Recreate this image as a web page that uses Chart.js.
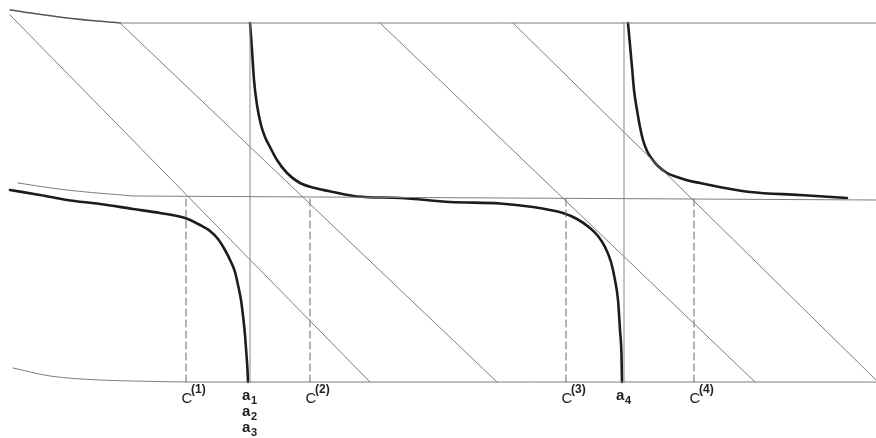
<!DOCTYPE html>
<html>
<head>
<meta charset="UTF-8" />
<title>Roots between poles</title>
<script src="https://cdn.jsdelivr.net/npm/chart.js@4"></script>
<style>
  * { margin: 0; padding: 0; box-sizing: border-box; }
  body { background: #ffffff; width: 876px; height: 438px; overflow: hidden; }
  #fig { display: block; }
</style>
</head>
<body>
<canvas id="fig" width="876" height="438"></canvas>
<script>
// values (x to the right, y upwards, baseline = 0)
const poles = [25.0, 62.4];
const poleLabels = [["a1", "a2", "a3"], ["a4"]];
const roots = [18.6, 31.0, 56.6, 69.4];
const rootLabels = ["(1)", "(2)", "(3)", "(4)"];

const upperLevel = 35.9;
const middleLevel = [[13.3, 18.6], [87.6, 18.2]];

const branchLeft = [
  [1.0, 19.2], [4.0, 18.7], [6.7, 18.2], [10.0, 17.8], [13.3, 17.3],
  [16.0, 16.9], [18.5, 16.4], [20.0, 15.7], [21.0, 15.1], [21.8, 14.3],
  [22.5, 13.2], [23.1, 12.0], [23.5, 11.0], [23.8, 9.7], [24.1, 8.2],
  [24.35, 6.2], [24.5, 4.7], [24.65, 2.7], [24.75, 1.2], [24.8, 0]
];
const branchMiddle = [
  [25.0, 35.9], [25.2, 33.2], [25.4, 30.2], [25.7, 27.7], [26.1, 25.7],
  [26.5, 24.5], [27.0, 23.5], [27.7, 22.2], [28.7, 20.9], [30.0, 19.9],
  [31.5, 19.4], [33.3, 19.0], [35.7, 18.55], [40.0, 18.4], [45.0, 18.0],
  [50.0, 17.85], [53.3, 17.5], [55.0, 17.2], [56.3, 16.9], [57.7, 16.3],
  [59.0, 15.4], [59.8, 14.6], [60.5, 13.5], [61.1, 12.0], [61.5, 10.2],
  [61.8, 8.2], [62.0, 5.2], [62.15, 2.7], [62.2, 0]
];
const branchRight = [
  [62.8, 35.9], [63.0, 33.7], [63.2, 31.5], [63.4, 29.2], [63.7, 27.2],
  [64.0, 25.5], [64.3, 24.2], [64.7, 23.1], [65.2, 22.3], [65.8, 21.6],
  [66.7, 20.9], [67.7, 20.5], [69.0, 20.1], [70.0, 19.9], [72.5, 19.4],
  [75.0, 19.0], [80.0, 18.7], [84.7, 18.4]
];

const upperLeftCurve = [[1.0, 37.2], [6.7, 36.4], [12.0, 35.9]];
const middleLeftCurve = [[1.8, 19.9], [6.7, 19.2], [13.3, 18.6]];
const lowerLeftCurve = [[1.3, 1.4], [5.0, 0.6], [10.0, 0.2], [13.3, 0.1], [18.5, 0]];

const diagonals = [
  [[1.0, 36.7], [37.0, 0]],
  [[12.0, 35.9], [49.7, 0]],
  [[38.0, 35.9], [75.5, 0]],
  [[51.3, 35.9], [87.6, 0.2]]
];

const toXY = (pts) => pts.map(([x, y]) => ({ x, y }));

const thin = { borderColor: "#7d7d7d", borderWidth: 1 };
const medium = { borderColor: "#555555", borderWidth: 1.4 };
const thick = { borderColor: "#1c1c1c", borderWidth: 2.6, cubicInterpolationMode: "monotone" };

const datasets = [];

// frame lines
datasets.push({ data: toXY([[12.0, upperLevel], [87.6, upperLevel]]), ...thin });
datasets.push({ data: toXY(middleLevel), ...thin });
datasets.push({ data: toXY([[18.5, 0], [87.6, 0]]), ...thin });
datasets.push({ data: toXY(upperLeftCurve), ...medium, tension: 0.4 });
datasets.push({ data: toXY(middleLeftCurve), ...thin, tension: 0.4 });
datasets.push({ data: toXY(lowerLeftCurve), ...thin, cubicInterpolationMode: "monotone" });

// asymptotes at the poles
for (const p of poles) {
  datasets.push({ data: toXY([[p, 0], [p, upperLevel]]), borderColor: "#8a8a8a", borderWidth: 1 });
}

// straight lines
for (const d of diagonals) {
  datasets.push({ data: toXY(d), ...thin });
}

// dashed drops from the roots
for (const r of roots) {
  datasets.push({
    data: toXY([[r, 0], [r, 18.5]]),
    borderColor: "#6a6a6a",
    borderWidth: 1,
    borderDash: [7, 4]
  });
}

// the function branches
datasets.push({ data: toXY(branchLeft), ...thick });
datasets.push({ data: toXY(branchMiddle), ...thick });
datasets.push({ data: toXY(branchRight), ...thick });

const labelPlugin = {
  id: "labels",
  afterDraw(chart) {
    const ctx = chart.ctx;
    const xs = chart.scales.x;
    const ys = chart.scales.y;
    const base = ys.getPixelForValue(0);
    ctx.save();
    ctx.fillStyle = "#222222";
    ctx.textBaseline = "alphabetic";

    roots.forEach((r, i) => {
      const px = xs.getPixelForValue(r);
      ctx.font = "15px 'Liberation Sans', Arial, sans-serif";
      ctx.textAlign = "center";
      ctx.fillText("C", px + 1, base + 21);
      ctx.font = "bold 12px 'Liberation Sans', Arial, sans-serif";
      ctx.textAlign = "left";
      ctx.fillText(rootLabels[i], px + 5, base + 11);
    });

    poles.forEach((p, i) => {
      const px = xs.getPixelForValue(p);
      poleLabels[i].forEach((lab, j) => {
        const y0 = base + 18 + j * 16;
        ctx.font = "bold 15px 'Liberation Sans', Arial, sans-serif";
        ctx.textAlign = "left";
        ctx.fillText(lab[0], px - 8, y0);
        ctx.font = "bold 11px 'Liberation Sans', Arial, sans-serif";
        ctx.fillText(lab.slice(1), px + 1, y0 + 4);
      });
    });
    ctx.restore();
  }
};

new Chart(document.getElementById("fig"), {
  type: "line",
  data: { datasets },
  options: {
    responsive: false,
    animation: false,
    events: [],
    layout: { padding: 0 },
    elements: { point: { radius: 0 }, line: { tension: 0, borderCapStyle: "round" } },
    plugins: { legend: { display: false }, tooltip: { enabled: false } },
    scales: {
      x: { type: "linear", min: 0, max: 87.6, display: false },
      y: { type: "linear", min: -5.6, max: 38.2, display: false }
    }
  },
  plugins: [labelPlugin]
});
</script>
</body>
</html>
